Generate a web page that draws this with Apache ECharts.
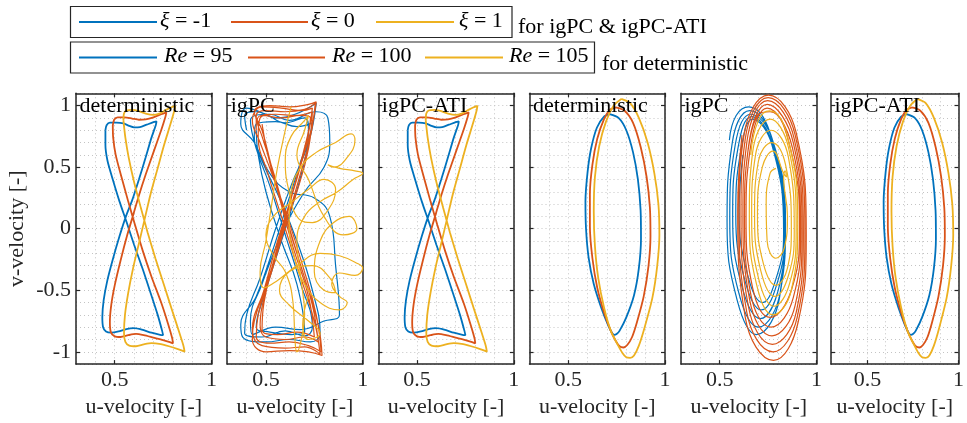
<!DOCTYPE html>
<html><head><meta charset="utf-8">
<script src="https://cdn.jsdelivr.net/npm/echarts@6/dist/echarts.min.js"></script>
<style>html,body{margin:0;padding:0;background:#fff}#c{width:967px;height:423px}</style>
</head><body><div id="c"></div>
<script>
// ---------------- data (u-velocity, v-velocity) ----------------
const panelTitles = ['deterministic', 'igPC', 'igPC-ATI', 'deterministic', 'igPC', 'igPC-ATI'];
const xiLabels = ['-1', '0', '1'];
const reLabels = ['95', '100', '105'];
const xTickValues = [0.5, 1];
const yTickValues = [-1, -0.5, 0, 0.5, 1];

// case A: bow-tie orbits (deterministic & igPC-ATI look identical)
const bowBlue = [[0.452,0.80],[0.458,0.84],[0.475,0.862],[0.51,0.862],[0.545,0.855],[0.575,0.835],[0.60,0.823],[0.63,0.825],[0.665,0.845],[0.70,0.865],[0.716,0.872],[0.712,0.84],[0.69,0.74],[0.66,0.58],[0.625,0.40],[0.59,0.23],[0.558,0.10],[0.525,-0.06],[0.49,-0.25],[0.462,-0.42],[0.443,-0.58],[0.436,-0.72],[0.44,-0.80],[0.455,-0.835],[0.48,-0.845],[0.52,-0.835],[0.56,-0.815],[0.60,-0.808],[0.64,-0.82],[0.69,-0.845],[0.735,-0.862],[0.75,-0.865],[0.745,-0.83],[0.722,-0.70],[0.685,-0.52],[0.645,-0.33],[0.60,-0.13],[0.56,0.06],[0.525,0.22],[0.49,0.40],[0.463,0.55],[0.452,0.68],[0.452,0.80]];
const bowRed = [[0.49,0.84],[0.497,0.885],[0.515,0.905],[0.55,0.905],[0.59,0.895],[0.625,0.885],[0.66,0.888],[0.70,0.905],[0.74,0.93],[0.767,0.945],[0.762,0.91],[0.74,0.80],[0.70,0.62],[0.66,0.44],[0.625,0.27],[0.597,0.12],[0.565,-0.05],[0.53,-0.26],[0.50,-0.46],[0.482,-0.62],[0.475,-0.76],[0.48,-0.84],[0.50,-0.875],[0.53,-0.88],[0.57,-0.865],[0.61,-0.855],[0.65,-0.865],[0.70,-0.885],[0.75,-0.905],[0.785,-0.922],[0.801,-0.932],[0.797,-0.89],[0.775,-0.77],[0.74,-0.60],[0.69,-0.39],[0.645,-0.18],[0.605,0.03],[0.57,0.22],[0.535,0.42],[0.505,0.60],[0.492,0.74],[0.49,0.84]];
const bowYellow = [[0.545,0.88],[0.548,0.935],[0.56,0.96],[0.59,0.965],[0.625,0.955],[0.66,0.935],[0.70,0.925],[0.73,0.935],[0.76,0.96],[0.79,0.985],[0.812,0.998],[0.808,0.96],[0.79,0.86],[0.755,0.68],[0.72,0.48],[0.685,0.28],[0.655,0.08],[0.625,-0.12],[0.595,-0.32],[0.57,-0.52],[0.553,-0.70],[0.548,-0.85],[0.555,-0.92],[0.575,-0.95],[0.61,-0.955],[0.65,-0.94],[0.69,-0.93],[0.73,-0.935],[0.78,-0.955],[0.83,-0.98],[0.861,-0.998],[0.855,-0.95],[0.835,-0.85],[0.80,-0.68],[0.755,-0.46],[0.71,-0.24],[0.67,-0.03],[0.635,0.17],[0.60,0.38],[0.572,0.58],[0.555,0.74],[0.545,0.88]];

// case A: igPC (not converged)
const igpcABlue = [[0.40,0.80],[0.39,0.92],[0.45,0.95],[0.55,0.90],[0.65,0.93],[0.76,1.02],[0.72,0.70],[0.63,0.35],[0.55,0.00],[0.47,-0.40],[0.40,-0.70],[0.39,-0.85],[0.48,-0.88],[0.60,-0.83],[0.70,-0.87],[0.74,-0.80],[0.68,-0.45],[0.60,-0.05],[0.52,0.35],[0.45,0.65],
  [0.42,0.88],[0.52,0.93],[0.62,0.88],[0.76,0.95],[0.82,0.90],[0.83,0.70],[0.80,0.50],[0.70,0.30],[0.58,-0.05],[0.48,-0.45],[0.42,-0.75],[0.43,-0.86],[0.55,-0.80],[0.68,-0.82],[0.80,-0.75],[0.88,-0.70],[0.86,-0.30],[0.83,0.10],[0.75,0.25],[0.62,0.30],[0.52,0.45],[0.44,0.70],
  [0.37,0.85],[0.40,0.98],[0.50,0.93],[0.60,0.86],[0.70,0.90],[0.72,0.80],[0.67,0.50],[0.60,0.15],[0.53,-0.20],[0.45,-0.55],[0.37,-0.78],[0.38,-0.88],[0.50,-0.92],[0.62,-0.90],[0.73,-0.92],[0.78,-0.85],[0.74,-0.50],[0.66,-0.10],[0.57,0.25],[0.48,0.55],[0.44,0.75],
  [0.45,0.85],[0.55,0.87],[0.66,0.83],[0.74,0.86],[0.70,0.55],[0.64,0.20],[0.57,-0.15],[0.50,-0.50],[0.45,-0.80],[0.52,-0.84],[0.63,-0.86],[0.70,-0.84],[0.66,-0.45],[0.58,-0.10],[0.50,0.30],[0.46,0.60],[0.45,0.80]];
const igpcARed = [[0.45,0.80],[0.45,0.92],[0.50,0.96],[0.60,0.95],[0.70,0.97],[0.755,1.02],[0.73,0.75],[0.67,0.40],[0.60,0.02],[0.52,-0.40],[0.46,-0.70],[0.45,-0.88],[0.52,-0.93],[0.62,-0.92],[0.72,-0.95],[0.785,-1.00],[0.76,-0.70],[0.69,-0.30],[0.61,0.10],[0.53,0.45],[0.47,0.70],
  [0.43,0.88],[0.48,0.99],[0.58,0.98],[0.68,0.96],[0.74,0.98],[0.71,0.70],[0.64,0.30],[0.56,-0.10],[0.49,-0.50],[0.43,-0.82],[0.48,-0.95],[0.60,-0.97],[0.70,-0.96],[0.78,-1.02],[0.75,-0.75],[0.67,-0.35],[0.59,0.05],[0.51,0.45],[0.46,0.75],
  [0.47,0.90],[0.55,0.93],[0.65,0.92],[0.74,0.95],[0.72,0.65],[0.66,0.30],[0.58,-0.05],[0.51,-0.45],[0.47,-0.78],[0.50,-0.88],[0.60,-0.90],[0.70,-0.88],[0.77,-0.92],[0.74,-0.62],[0.67,-0.25],[0.60,0.12],[0.53,0.50],[0.48,0.80],
  [0.44,0.95],[0.52,1.0],[0.62,0.99],[0.72,1.01],[0.76,1.03],[0.73,0.78],[0.66,0.42],[0.59,0.0],[0.51,-0.42],[0.44,-0.75],[0.43,-0.90],[0.50,-1.00],[0.62,-0.99],[0.72,-1.0],[0.79,-1.03],[0.77,-0.78],[0.70,-0.40],[0.62,0.0],[0.55,0.40],[0.48,0.75],[0.455,0.88],
  [0.48,0.92],[0.58,0.90],[0.68,0.92],[0.73,0.90],[0.69,0.60],[0.62,0.20],[0.55,-0.20],[0.49,-0.60],[0.48,-0.82],[0.56,-0.86],[0.66,-0.84],[0.75,-0.88],[0.72,-0.55],[0.64,-0.15],[0.57,0.25],[0.51,0.60],[0.48,0.85]];
const igpcAYellow = [[0.63,0.99],[0.60,0.80],[0.56,0.50],[0.53,0.20],[0.50,-0.10],[0.47,-0.35],[0.49,-0.48],[0.56,-0.42],[0.66,-0.30],[0.78,-0.20],[0.88,-0.22],[0.97,-0.28],[1.0,-0.32],[0.96,-0.38],[0.88,-0.36],[0.84,-0.45],[0.88,-0.55],[0.92,-0.60],[0.88,-0.66],[0.78,-0.60],[0.70,-0.45],[0.65,-0.25],[0.62,0.05],[0.63,0.30],[0.68,0.50],[0.76,0.62],[0.86,0.70],[0.94,0.77],[0.96,0.72],[0.92,0.58],[0.85,0.50],[0.82,0.52],[0.88,0.49],[0.96,0.47],[1.0,0.45],[0.95,0.40],[0.87,0.30],[0.78,0.22],[0.70,0.10],[0.66,-0.10],[0.68,-0.40],[0.70,-0.70],[0.68,-0.92],[0.66,-1.0],[0.65,-0.90],[0.64,-0.60],[0.60,-0.35],[0.54,-0.22],[0.50,-0.05],[0.55,0.12],[0.62,0.20],[0.72,0.32],[0.80,0.40],[0.86,0.32],[0.82,0.15],[0.74,0.05],[0.67,0.08],[0.62,0.30],[0.60,0.55],[0.63,0.75],[0.70,0.88],[0.72,0.92],[0.70,0.80],[0.66,0.60],
  [0.72,0.40],[0.80,0.10],[0.90,-0.05],[0.97,0.0],[0.93,0.10],[0.85,0.05],[0.78,-0.10],[0.75,-0.35],[0.80,-0.50],[0.86,-0.52],[0.83,-0.40],[0.74,-0.30],[0.62,-0.35],[0.57,-0.50],[0.62,-0.62],[0.72,-0.75],[0.78,-0.85],[0.72,-0.90],[0.69,-0.78],[0.72,-0.55]];

// case B: elliptic orbits (deterministic & igPC-ATI look identical)
const ellBlue = [[0.714,0.93],[0.76,0.90],[0.80,0.80],[0.835,0.62],[0.86,0.40],[0.874,0.15],[0.876,-0.08],[0.865,-0.32],[0.84,-0.54],[0.80,-0.72],[0.765,-0.83],[0.75,-0.855],[0.738,-0.862],[0.728,-0.852],[0.705,-0.78],[0.67,-0.64],[0.632,-0.45],[0.605,-0.23],[0.592,0.0],[0.589,0.22],[0.60,0.46],[0.618,0.65],[0.648,0.82],[0.685,0.91],[0.714,0.93]];
const ellRed = [[0.745,0.985],[0.79,0.96],[0.835,0.86],[0.875,0.66],[0.905,0.42],[0.922,0.17],[0.925,-0.06],[0.915,-0.30],[0.89,-0.55],[0.855,-0.76],[0.83,-0.88],[0.805,-0.945],[0.785,-0.965],[0.765,-0.955],[0.745,-0.91],[0.72,-0.83],[0.685,-0.68],[0.65,-0.48],[0.625,-0.24],[0.612,0.02],[0.612,0.28],[0.625,0.52],[0.65,0.73],[0.685,0.89],[0.715,0.965],[0.745,0.985]];
const ellYellow = [[0.774,1.054],[0.82,1.02],[0.865,0.90],[0.91,0.70],[0.945,0.45],[0.966,0.20],[0.971,-0.05],[0.96,-0.30],[0.935,-0.56],[0.895,-0.80],[0.865,-0.95],[0.84,-1.03],[0.82,-1.05],[0.80,-1.045],[0.78,-1.01],[0.755,-0.94],[0.72,-0.83],[0.685,-0.64],[0.655,-0.40],[0.638,-0.14],[0.632,0.14],[0.638,0.42],[0.66,0.67],[0.695,0.87],[0.735,1.0],[0.774,1.054]];

// case B: igPC (spiralling)
const igpcBBlue = [[0.55,0.72],
  [0.585,0.92],[0.65,0.99],[0.76,0.78],[0.835,0.10],[0.81,-0.55],[0.69,-0.86],[0.59,-0.58],[0.538,0.05],
  [0.565,0.70],[0.655,0.96],[0.765,0.76],[0.84,0.05],[0.815,-0.50],[0.70,-0.80],[0.60,-0.53],[0.552,0.08],
  [0.58,0.68],[0.66,0.93],[0.77,0.73],[0.838,0.0],[0.81,-0.45],[0.71,-0.73],[0.615,-0.47],[0.567,0.10],
  [0.595,0.66],[0.665,0.91],[0.77,0.70],[0.835,-0.02],[0.805,-0.40],[0.715,-0.66],[0.63,-0.42],[0.583,0.12],
  [0.61,0.64],[0.67,0.89],[0.77,0.68],[0.83,-0.03],[0.80,-0.36],[0.72,-0.60],[0.645,-0.38],[0.60,0.14],[0.62,0.60]];
const igpcBRed = [[0.64,0.55],[0.70,0.93],[0.76,0.95],[0.87,0.62],[0.912,0.0],[0.87,-0.50],[0.76,-0.72],[0.67,-0.48],[0.636,0.10],
  [0.655,0.62],[0.745,0.98],[0.875,0.66],[0.918,-0.02],[0.88,-0.56],[0.765,-0.80],[0.66,-0.53],[0.628,0.10],
  [0.648,0.66],[0.745,1.01],[0.88,0.70],[0.925,-0.03],[0.89,-0.62],[0.77,-0.87],[0.655,-0.58],[0.62,0.12],
  [0.64,0.70],[0.748,1.04],[0.885,0.73],[0.932,-0.04],[0.895,-0.68],[0.772,-0.94],[0.648,-0.63],[0.61,0.13],
  [0.632,0.73],[0.75,1.065],[0.89,0.76],[0.94,-0.05],[0.90,-0.72],[0.775,-1.00],[0.64,-0.68],[0.60,0.14],
  [0.625,0.76],[0.752,1.085],[0.895,0.78],[0.947,-0.06],[0.905,-0.76],[0.778,-1.07],[0.632,-0.72],[0.593,0.15],[0.615,0.76]];
const igpcBYellow = [[0.66,0.60],[0.70,0.88],[0.757,0.957],[0.85,0.75],[0.903,0.05],[0.87,-0.50],[0.775,-0.70],[0.69,-0.45],[0.653,0.10],
  [0.67,0.62],[0.76,0.89],[0.855,0.66],[0.895,0.0],[0.86,-0.45],[0.78,-0.63],[0.70,-0.40],[0.665,0.12],
  [0.685,0.60],[0.765,0.80],[0.855,0.58],[0.885,-0.02],[0.855,-0.38],[0.785,-0.55],[0.712,-0.34],[0.68,0.12],
  [0.70,0.55],[0.77,0.70],[0.84,0.52],[0.87,0.0],[0.85,-0.32],[0.79,-0.46],[0.725,-0.28],[0.695,0.12],
  [0.72,0.50],[0.775,0.63],[0.83,0.45],[0.845,0.42],[0.838,0.47],[0.83,0.42],[0.85,0.10],[0.835,-0.15],[0.79,-0.24],[0.745,-0.10],[0.74,0.20],[0.76,0.45],[0.79,0.49]];

const panelData = [
  [bowBlue, bowRed, bowYellow],
  [igpcABlue, igpcARed, igpcAYellow],
  [bowBlue, bowRed, bowYellow],
  [ellBlue, ellRed, ellYellow],
  [igpcBBlue, igpcBRed, igpcBYellow],
  [ellBlue, ellRed, ellYellow]
];

// ---------------- layout / style ----------------
const FONT = 'Liberation Serif';
const FS = 22;
const AX = '#262626';
const COLORS = ['#0072BD', '#D95319', '#EDB120'];
const LEFTS = [76, 227.2, 378.3, 529.5, 681, 831];
const GW = 135.5, GTOP = 93.3, GH = 271.7;
const thin = [false, true, false, false, true, false];

const axLine = {show: true, onZero: false, lineStyle: {color: AX, width: 1.5}};
const noLine = {show: false, onZero: false};
const tickStyle = {color: AX, width: 1.2};
const grids = [], xAxes = [], yAxes = [], series = [], graphics = [];

LEFTS.forEach((l, i) => {
  grids.push({left: l, top: GTOP, width: GW, height: GH, containLabel: false});
  // x: grid-line axis, top tick axis, bottom tick/label axis
  xAxes.push({gridIndex: i, type: 'value', min: 0.3, max: 1, interval: 0.1, position: 'bottom',
    axisLine: axLine, axisTick: {show: false}, axisLabel: {show: false},
    splitLine: {show: true, lineStyle: {color: '#c4c4c4', type: [1, 3], width: 1}}});
  xAxes.push({gridIndex: i, type: 'value', min: 0.3, max: 1, position: 'top',
    axisLine: axLine, axisTick: {show: true, inside: true, length: 4, customValues: xTickValues, lineStyle: tickStyle},
    axisLabel: {show: false}, splitLine: {show: false}});
  xAxes.push({gridIndex: i, type: 'value', min: 0.3, max: 1, position: 'bottom',
    axisLine: noLine, axisTick: {show: true, inside: true, length: 4, customValues: xTickValues, lineStyle: tickStyle},
    axisLabel: {show: true, customValues: xTickValues, margin: 5, fontFamily: FONT, fontSize: FS, color: AX, formatter: v => String(v)},
    splitLine: {show: false},
    name: 'u-velocity [-]', nameLocation: 'middle', nameGap: 30,
    nameTextStyle: {fontFamily: FONT, fontSize: FS, color: AX}});
  // y
  yAxes.push({gridIndex: i, type: 'value', min: -1.1, max: 1.1, interval: 0.1, position: 'left',
    axisLine: axLine, axisTick: {show: false}, axisLabel: {show: false},
    splitLine: {show: true, lineStyle: {color: '#c4c4c4', type: [1, 3], width: 1}}});
  yAxes.push({gridIndex: i, type: 'value', min: -1.1, max: 1.1, position: 'right',
    axisLine: axLine, axisTick: {show: true, inside: true, length: 4, customValues: yTickValues, lineStyle: tickStyle},
    axisLabel: {show: false}, splitLine: {show: false}});
  const yc = {gridIndex: i, type: 'value', min: -1.1, max: 1.1, position: 'left',
    axisLine: noLine, axisTick: {show: true, inside: true, length: 4, customValues: yTickValues, lineStyle: tickStyle},
    axisLabel: {show: i === 0, customValues: yTickValues, margin: 5, fontFamily: FONT, fontSize: FS, color: AX, formatter: v => String(v)},
    splitLine: {show: false}};
  if (i === 0) {
    Object.assign(yc, {name: 'v-velocity [-]', nameLocation: 'middle', nameGap: 48,
      nameTextStyle: {fontFamily: FONT, fontSize: FS, color: AX}});
  }
  yAxes.push(yc);

  panelData[i].forEach((d, k) => {
    series.push({type: 'line', xAxisIndex: i * 3, yAxisIndex: i * 3, data: d,
      showSymbol: false, symbol: 'none', smooth: thin[i] ? 0.45 : 0.25, silent: true,
      lineStyle: {color: COLORS[k], width: thin[i] ? 1.2 : 1.8}, itemStyle: {color: COLORS[k]}, z: 2 + k});
  });

  graphics.push({type: 'text', x: l + 3.5, y: 106, z: 100,
    style: {text: panelTitles[i], fontFamily: FONT, fontSize: FS, fill: '#000', verticalAlign: 'middle', align: 'left'}});
});

// legends
const rich = {i: {fontStyle: 'italic', fontFamily: FONT, fontSize: FS, fill: '#000'}, n: {fontFamily: FONT, fontSize: FS, fill: '#000'}};
graphics.push({type: 'rect', shape: {x: 70.5, y: 6.5, width: 441.5, height: 31}, style: {fill: '#fff', stroke: AX, lineWidth: 1.2}, z: 90});
graphics.push({type: 'rect', shape: {x: 70.5, y: 42, width: 524, height: 31}, style: {fill: '#fff', stroke: AX, lineWidth: 1.2}, z: 90});
const leg1Lines = [[79, 157], [231, 308], [376, 454]];
const leg1Text = [160, 311, 459];
const leg2Lines = [[79, 157], [248, 325], [425, 503]];
const leg2Text = [164, 332, 509];
xiLabels.forEach((t, k) => {
  graphics.push({type: 'line', shape: {x1: leg1Lines[k][0], y1: 22, x2: leg1Lines[k][1], y2: 22}, style: {stroke: COLORS[k], lineWidth: 2}, z: 95});
  graphics.push({type: 'text', x: leg1Text[k], y: 21.5, z: 95,
    style: {text: '{i|ξ}{n| = ' + t + '}', rich: rich, fontFamily: FONT, fontSize: FS, verticalAlign: 'middle', align: 'left'}});
});
reLabels.forEach((t, k) => {
  graphics.push({type: 'line', shape: {x1: leg2Lines[k][0], y1: 57.5, x2: leg2Lines[k][1], y2: 57.5}, style: {stroke: COLORS[k], lineWidth: 2}, z: 95});
  graphics.push({type: 'text', x: leg2Text[k], y: 56, z: 95,
    style: {text: '{i|Re}{n| = ' + t + '}', rich: rich, fontFamily: FONT, fontSize: FS, verticalAlign: 'middle', align: 'left'}});
});
graphics.push({type: 'text', x: 518, y: 27.5, z: 95, style: {text: 'for igPC & igPC-ATI', fontFamily: FONT, fontSize: FS, fill: '#000', verticalAlign: 'middle'}});
graphics.push({type: 'text', x: 602, y: 64, z: 95, style: {text: 'for deterministic', fontFamily: FONT, fontSize: FS, fill: '#000', verticalAlign: 'middle'}});

const chart = echarts.init(document.getElementById('c'), null, {renderer: 'canvas'});
chart.setOption({
  animation: false,
  backgroundColor: '#fff',
  grid: grids, xAxis: xAxes, yAxis: yAxes, series: series, graphic: graphics
});
</script></body></html>
